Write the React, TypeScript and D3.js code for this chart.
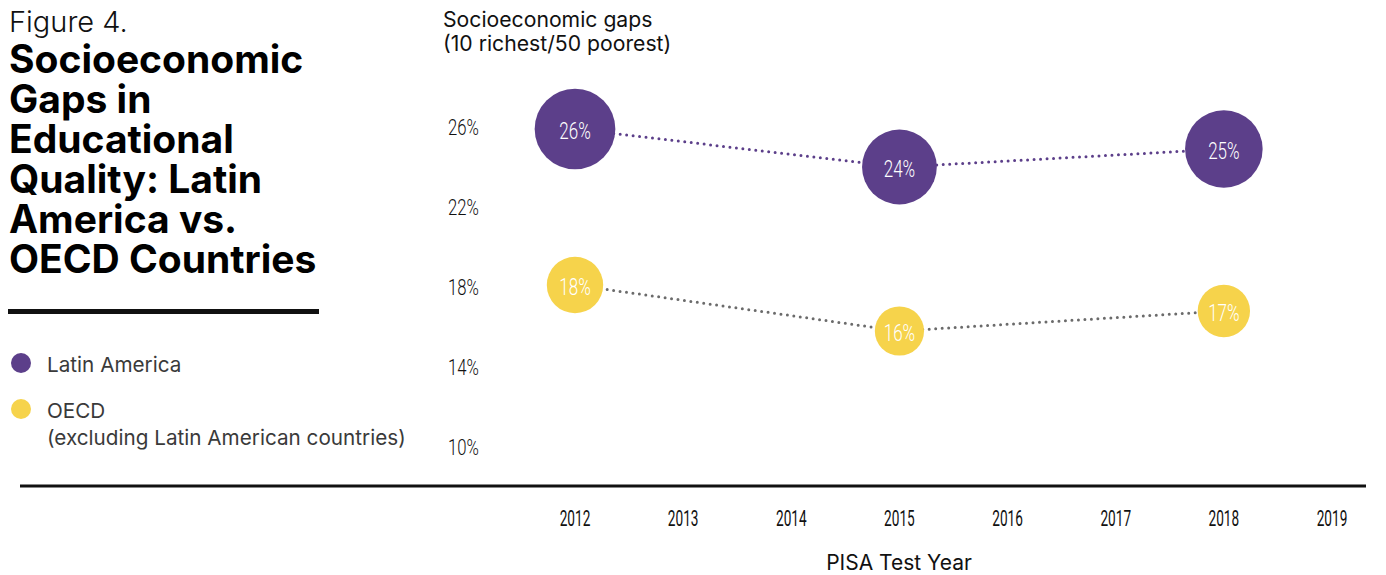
import React from "react";
import * as d3 from "d3";

const years = [2012, 2013, 2014, 2015, 2016, 2017, 2018, 2019];
const testYears = [2012, 2015, 2018];
const latinAmerica = [25.9, 24.0, 24.9];
const oecd = [18.1, 15.8, 16.8];
const yTicks = [10, 14, 18, 22, 26];
const titleLines = [
  "Socioeconomic",
  "Gaps in",
  "Educational",
  "Quality: Latin",
  "America vs.",
  "OECD Countries",
];

const PURPLE = "#5c3f8a";
const YELLOW = "#f6d34b";
const SANS = "Inter, 'Noto Sans', sans-serif";
const NARROW = "Roboto, 'Liberation Sans', sans-serif";

// condensed numerals: Roboto squeezed horizontally
const Narrow = ({ x, y, text, size = 22, fill = "#111", anchor = "start", sx = 0.64, weight = 400 }) => (
  <g transform={`translate(${x},${y}) scale(${sx},1)`}>
    <text
      textAnchor={anchor}
      dominantBaseline="central"
      fontFamily={NARROW}
      fontWeight={weight}
      fontSize={size}
      fill={fill}
    >
      {text}
    </text>
  </g>
);

export default function App() {
  const x = d3.scaleLinear().domain([2012, 2019]).range([575, 1332]);
  const y = d3.scaleLinear().domain([10, 26]).range([447, 127]);
  const r = d3.scaleLinear().domain([0, 26]).range([0, 40.5]);

  const series = [
    { name: "Latin America", values: latinAmerica, color: PURPLE, line: PURPLE },
    { name: "OECD", values: oecd, color: YELLOW, line: "#6b6b6b" },
  ];

  const line = d3
    .line<number>()
    .x((_, i) => x(testYears[i]))
    .y((d) => y(d));

  return (
    <svg
      width={1386}
      height={575}
      style={{ position: "absolute", left: 0, top: 0, background: "#fff" }}
    >
      {/* left header */}
      <text x={9} y={32} fontFamily={SANS} fontWeight={300} fontSize={29} fill="#111">
        Figure 4.
      </text>
      <text fontFamily={SANS} fontWeight={700} fontSize={39} fill="#000">
        {titleLines.map((t, i) => (
          <tspan key={t} x={9} y={73 + i * 40}>
            {t}
          </tspan>
        ))}
      </text>
      <rect x={8} y={309} width={311} height={5} fill="#111" />

      {/* legend */}
      <circle cx={21} cy={363} r={10} fill={PURPLE} />
      <text x={47} y={364} dominantBaseline="central" fontFamily={SANS} fontSize={20.7} fill="#3a3a3a">
        Latin America
      </text>
      <circle cx={21} cy={409} r={10} fill={YELLOW} />
      <text x={47} y={410} dominantBaseline="central" fontFamily={SANS} fontSize={20.7} fill="#3a3a3a">
        OECD
      </text>
      <text x={47} y={437} dominantBaseline="central" fontFamily={SANS} fontSize={20.7} fill="#3a3a3a">
        (excluding Latin American countries)
      </text>

      {/* y title */}
      <text x={443} y={27} fontFamily={SANS} fontSize={21.2} fill="#111">
        Socioeconomic gaps
      </text>
      <text x={443} y={51} fontFamily={SANS} fontSize={21.2} fill="#111">
        (10 richest/50 poorest)
      </text>

      {/* y ticks */}
      {yTicks.map((t) => (
        <Narrow key={t} x={448} y={y(t) + 1} text={`${t}%`} sx={0.76} weight={300} />
      ))}

      {/* x axis */}
      <rect x={20} y={484.5} width={1346} height={3} fill="#111" />
      {years.map((yr) => (
        <Narrow key={yr} x={x(yr)} y={518} text={`${yr}`} anchor="middle" sx={0.62} />
      ))}
      <text
        x={899}
        y={562}
        textAnchor="middle"
        dominantBaseline="central"
        fontFamily={SANS}
        fontSize={21}
        fill="#111"
      >
        PISA Test Year
      </text>

      {/* series */}
      {series.map((s) => (
        <g key={s.name}>
          <path
            d={line(s.values) || ""}
            fill="none"
            stroke={s.line}
            strokeWidth={3}
            strokeLinecap="round"
            strokeDasharray="0 6.5"
          />
          {s.values.map((v, i) => (
            <g key={i}>
              <circle cx={x(testYears[i])} cy={y(v)} r={r(v)} fill={s.color} />
              <Narrow
                x={x(testYears[i])}
                y={y(v) + 2}
                text={`${Math.round(v)}%`}
                anchor="middle"
                fill="#fff"
                size={23}
                sx={0.74}
                weight={300}
              />
            </g>
          ))}
        </g>
      ))}
    </svg>
  );
}
